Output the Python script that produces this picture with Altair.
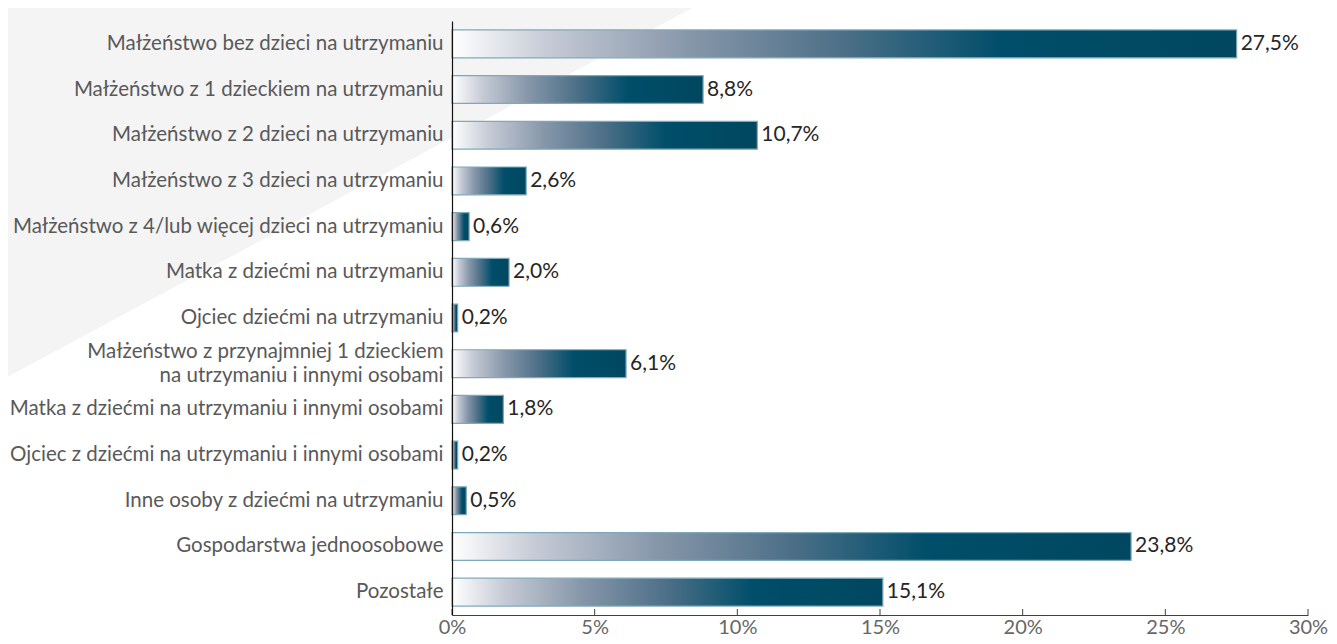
import altair as alt
import pandas as pd

categories = [
    "Małżeństwo bez dzieci na utrzymaniu",
    "Małżeństwo z 1 dzieckiem na utrzymaniu",
    "Małżeństwo z 2 dzieci na utrzymaniu",
    "Małżeństwo z 3 dzieci na utrzymaniu",
    "Małżeństwo z 4/lub więcej dzieci na utrzymaniu",
    "Matka z dziećmi na utrzymaniu",
    "Ojciec dziećmi na utrzymaniu",
    "Małżeństwo z przynajmniej 1 dzieckiem|na utrzymaniu i innymi osobami",
    "Matka z dziećmi na utrzymaniu i innymi osobami",
    "Ojciec z dziećmi na utrzymaniu i innymi osobami",
    "Inne osoby z dziećmi na utrzymaniu",
    "Gospodarstwa jednoosobowe",
    "Pozostałe",
]
values = [27.5, 8.8, 10.7, 2.6, 0.6, 2.0, 0.2, 6.1, 1.8, 0.2, 0.5, 23.8, 15.1]
x_ticks = [0, 5, 10, 15, 20, 25, 30]
title_text = "Typ biologiczny gospodarstwa domowego"

# decorative light-gray background wedge (x in % units, y in px from plot top)
bg_x = [-15.83, 8.94]
bg_top = [-21, -21]
bg_bottom = [360, -21]

labels = [f"{v:.1f}".replace(".", ",") + "%" for v in values]
df = pd.DataFrame({"cat": categories, "value": values, "label": labels})
ticks_df = pd.DataFrame({"tick": x_ticks})
bg_df = pd.DataFrame({"bx": bg_x, "top": bg_top, "bottom": bg_bottom})

W, H = 856, 594
FONT = "Lato"
xscale = alt.Scale(domain=[0, 30], nice=False, zero=True)
yscale = alt.Scale(domain=categories, paddingInner=0.39, paddingOuter=0.195)

x_axis = alt.Axis(
    values=x_ticks,
    labelExpr="datum.value + '%'",
    title=None,
    grid=False,
    ticks=False,
    domainColor="#404040",
    domainWidth=1.2,
    labelFont=FONT,
    labelFontSize=20,
    labelColor="#666666",
    labelPadding=2,
    labelFlush=False,
    zindex=1,
)

grad = alt.LinearGradient(
    gradient="linear",
    stops=[
        alt.GradientStop(color="#ffffff", offset=0),
        alt.GradientStop(color="#c6cbd6", offset=0.12),
        alt.GradientStop(color="#8797aa", offset=0.3),
        alt.GradientStop(color="#4c6f87", offset=0.5),
        alt.GradientStop(color="#004e6a", offset=0.7),
        alt.GradientStop(color="#00475f", offset=1),
    ],
    x1=0, x2=1, y1=0, y2=0,
)

bg = alt.Chart(bg_df).mark_area(color="#f4f4f4", clip=False, interpolate="linear").encode(
    x=alt.X("bx:Q", scale=xscale, axis=x_axis),
    y=alt.Y("top:Q", scale=alt.Scale(domain=[0, H], range=[0, H], nice=False, zero=False), axis=None),
    y2="bottom:Q",
)

bars = alt.Chart(df).mark_bar(fill=grad, stroke="#7fa9b9", strokeWidth=1.2).encode(
    x=alt.X("value:Q", scale=xscale, axis=x_axis),
    y=alt.Y(
        "cat:N",
        scale=yscale,
        sort=categories,
        axis=alt.Axis(
            title=None,
            ticks=False,
            domainColor="#111111",
            domainWidth=1.2,
            labelExpr="split(datum.label, '|')",
            labelFont=FONT,
            labelFontSize=20.5,
            labelColor="#595959",
            labelPadding=9,
            labelLineHeight=24,
            labelLimit=500,
            labelOffset=alt.condition(
                "indexof(datum.value, '|') >= 0", alt.value(-12), alt.value(0)
            ),
            zindex=1,
        ),
    ),
)

text = alt.Chart(df).mark_text(
    align="left", baseline="middle", dx=4, font=FONT, fontSize=21, color="#262626"
).encode(
    x=alt.X("value:Q", scale=xscale, axis=x_axis),
    y=alt.Y("cat:N", scale=yscale, sort=categories, axis=None),
    text="label:N",
)

tick_marks = alt.Chart(ticks_df).mark_rule(color="#404040", strokeWidth=1).encode(
    x=alt.X("tick:Q", scale=xscale, axis=x_axis),
    y=alt.value(H - 6),
    y2=alt.value(H),
)

chart = (
    alt.layer(bg, bars, text, tick_marks)
    .resolve_scale(y="independent")
    .properties(
        width=W,
        height=H,
        autosize=alt.AutoSizeParams(type="none"),
        padding={"left": 444, "top": 13, "right": 21, "bottom": 21},
        title=alt.TitleParams(
            title_text,
            anchor="start",
            frame="group",
            orient="top",
            dx=-384,
            dy=28,
            offset=0,
            baseline="alphabetic",
            font="Open Sans",
            fontSize=26.5,
            fontWeight="bold",
            color="#0b4a67",
        ),
    )
    .configure(background="#ffffff")
    .configure_view(stroke=None)
)

chart.save("out.html", embed_options={"renderer": "svg", "actions": False})
